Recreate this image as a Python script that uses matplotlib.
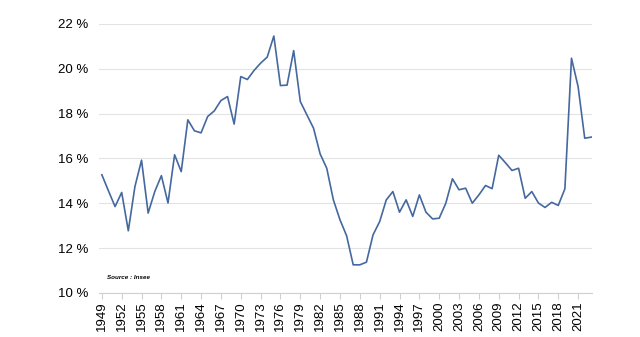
import matplotlib
matplotlib.use("Agg")
import matplotlib.pyplot as plt

# taux d'epargne des menages (%), 1949-2023
years = list(range(1949, 2024))
rate = [15.27, 14.55, 13.85, 14.48, 12.77, 14.74, 15.92, 13.56, 14.52, 15.23,
        14.01, 16.16, 15.41, 17.72, 17.23, 17.14, 17.87, 18.12, 18.58, 18.76,
        17.53, 19.65, 19.52, 19.92, 20.25, 20.52, 21.46, 19.25, 19.27, 20.81,
        18.54, 17.94, 17.35, 16.20, 15.56, 14.15, 13.26, 12.55, 11.25, 11.25,
        11.37, 12.59, 13.18, 14.15, 14.52, 13.60, 14.15, 13.41, 14.37, 13.60,
        13.30, 13.33, 14.00, 15.09, 14.60, 14.67, 14.00, 14.37, 14.79, 14.65,
        16.14, 15.81, 15.46, 15.56, 14.22, 14.52, 14.01, 13.81, 14.04, 13.90,
        14.64, 20.47, 19.20, 16.90, 16.95]
xticks = list(range(1949, 2022, 3))
yticks = [10, 12, 14, 16, 18, 20, 22]

plt.rcParams['font.family'] = ['Liberation Sans', 'DejaVu Sans']

fig = plt.figure(figsize=(6.4, 3.37), dpi=100)
ax = fig.add_axes([0.155, 0.131, 0.77, 0.798])

ax.plot(years, rate, color="#45689f", linewidth=1.2)

ax.set_xlim(1948.6, 2023.1)
ax.set_ylim(10, 22)
ax.set_yticks(yticks)
ax.set_yticklabels([f"{t} %" for t in yticks], fontsize=9.5)
ax.set_xticks(xticks)
ax.set_xticklabels([str(t) for t in xticks], rotation=90, fontsize=9.5)

ax.grid(axis="y", color="#e3e3e3", linewidth=0.8)
ax.set_axisbelow(True)
for s in ["top", "right", "left"]:
    ax.spines[s].set_visible(False)
ax.spines["bottom"].set_color("#d0d0d0")
ax.tick_params(axis="y", length=0, pad=8)
ax.tick_params(axis="x", length=4, color="#d0d0d0", pad=2)

ax.text(0.016, 0.052, "Source : Insee", transform=ax.transAxes,
        fontsize=4.5, style="italic", fontweight="bold")

fig.savefig("out.png", dpi=100)
